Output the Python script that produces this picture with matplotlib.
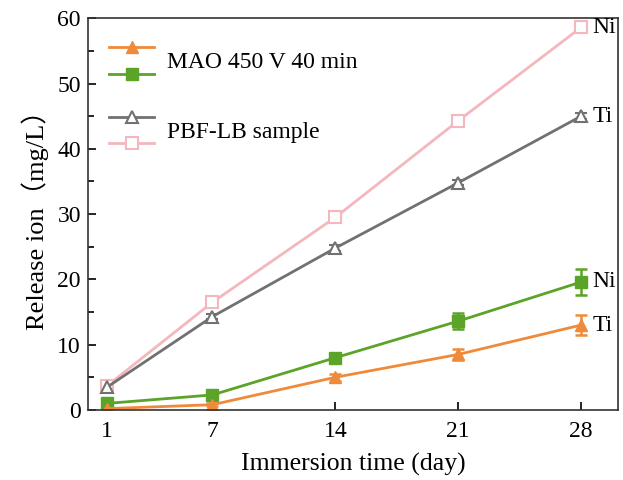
import matplotlib.pyplot as plt
from matplotlib.legend_handler import HandlerBase
from matplotlib.lines import Line2D

days = [1, 7, 14, 21, 28]
mao_ti = [0.2, 0.8, 5.0, 8.5, 13.0]
mao_ti_err = [0.1, 0.2, 0.5, 0.8, 1.5]
mao_ni = [1.0, 2.3, 8.0, 13.6, 19.6]
mao_ni_err = [0.2, 0.4, 0.6, 1.2, 2.0]
pbf_ti = [3.5, 14.3, 24.8, 34.8, 45.0]
pbf_ti_err = [0.3, 0.4, 0.4, 0.4, 0.5]
pbf_ni = [3.7, 16.5, 29.5, 44.3, 58.6]
pbf_ni_err = [0.3, 0.4, 0.4, 0.4, 0.5]

c_orange = '#EF8A3A'
c_green = '#5BA427'
c_gray = '#717171'
c_pink = '#F3B7BD'

plt.rcParams['font.family'] = ['Liberation Serif', 'Noto Sans CJK SC']
plt.rcParams['mathtext.fontset'] = 'stix'


class HandlerStack(HandlerBase):
    # draw two line+marker handles stacked above each other for one label
    def create_artists(self, legend, orig_handle, xdescent, ydescent,
                       width, height, fontsize, trans):
        arts = []
        ys = [height * 1.05 - ydescent, -height * 0.05 - ydescent]
        for h, y in zip(orig_handle, ys):
            ln = Line2D([-xdescent, -xdescent + width], [y, y],
                        color=h.get_color(), lw=h.get_linewidth())
            mk = Line2D([-xdescent + width / 2], [y], marker=h.get_marker(),
                        markersize=h.get_markersize(),
                        markerfacecolor=h.get_markerfacecolor(),
                        markeredgecolor=h.get_markeredgecolor(),
                        markeredgewidth=h.get_markeredgewidth(), ls='none')
            ln.set_transform(trans)
            mk.set_transform(trans)
            arts += [ln, mk]
        return arts


fig, ax = plt.subplots(figsize=(6.23, 4.80), dpi=100)
fig.subplots_adjust(left=0.141, right=0.992, top=0.962, bottom=0.146)

kw = dict(lw=2, capsize=4.5, elinewidth=1.8, capthick=1.8, markersize=9)
ax.errorbar(days, pbf_ni, yerr=pbf_ni_err, color=c_pink, marker='s',
            mfc='white', mec=c_pink, mew=1.5, **kw)
ax.errorbar(days, pbf_ti, yerr=pbf_ti_err, color=c_gray, marker='^',
            mfc='white', mec=c_gray, mew=1.5, **kw)
ax.errorbar(days, mao_ni, yerr=mao_ni_err, color=c_green, marker='s', **kw)
ax.errorbar(days, mao_ti, yerr=mao_ti_err, color=c_orange, marker='^', **kw)

for val, lab in [(pbf_ni[-1], 'Ni'), (pbf_ti[-1], 'Ti'),
                 (mao_ni[-1], 'Ni'), (mao_ti[-1], 'Ti')]:
    ax.annotate(lab, (days[-1], val), xytext=(8, 0), textcoords='offset points',
                va='center', ha='left', fontsize=17)

ax.set_xlim(-0.1, 30.1)
ax.set_ylim(0, 60)
ax.set_xticks(days)
ax.set_yticks(range(0, 61, 10))
ax.set_yticks(range(5, 60, 10), minor=True)
ax.tick_params(direction='in', labelsize=17, width=1.2, length=6)
ax.tick_params(axis='x', pad=8)
ax.tick_params(axis='y', pad=5)
ax.tick_params(which='minor', direction='in', width=1.2, length=4)
for s in ax.spines.values():
    s.set_linewidth(1.2)
    s.set_color('#333333')

ax.set_xlabel('Immersion time (day)', fontsize=18.5, labelpad=8)
ax.set_ylabel('Release ion（mg/L）', fontsize=19, labelpad=6)

h_ot = Line2D([], [], color=c_orange, lw=2, marker='^', markersize=9,
              mfc=c_orange, mec=c_orange, mew=1)
h_gn = Line2D([], [], color=c_green, lw=2, marker='s', markersize=9,
              mfc=c_green, mec=c_green, mew=1)
h_gy = Line2D([], [], color=c_gray, lw=2, marker='^', markersize=9,
              mfc='white', mec=c_gray, mew=1.5)
h_pk = Line2D([], [], color=c_pink, lw=2, marker='s', markersize=9,
              mfc='white', mec=c_pink, mew=1.5)
ax.legend([(h_ot, h_gn), (h_gy, h_pk)], ['MAO 450 V 40 min', 'PBF-LB sample'],
          handler_map={tuple: HandlerStack()}, loc='upper left',
          bbox_to_anchor=(0.0, 0.978), frameon=False, fontsize=17,
          handlelength=1.9, handleheight=1.2, labelspacing=1.9,
          handletextpad=0.55)

plt.savefig('out.png')
